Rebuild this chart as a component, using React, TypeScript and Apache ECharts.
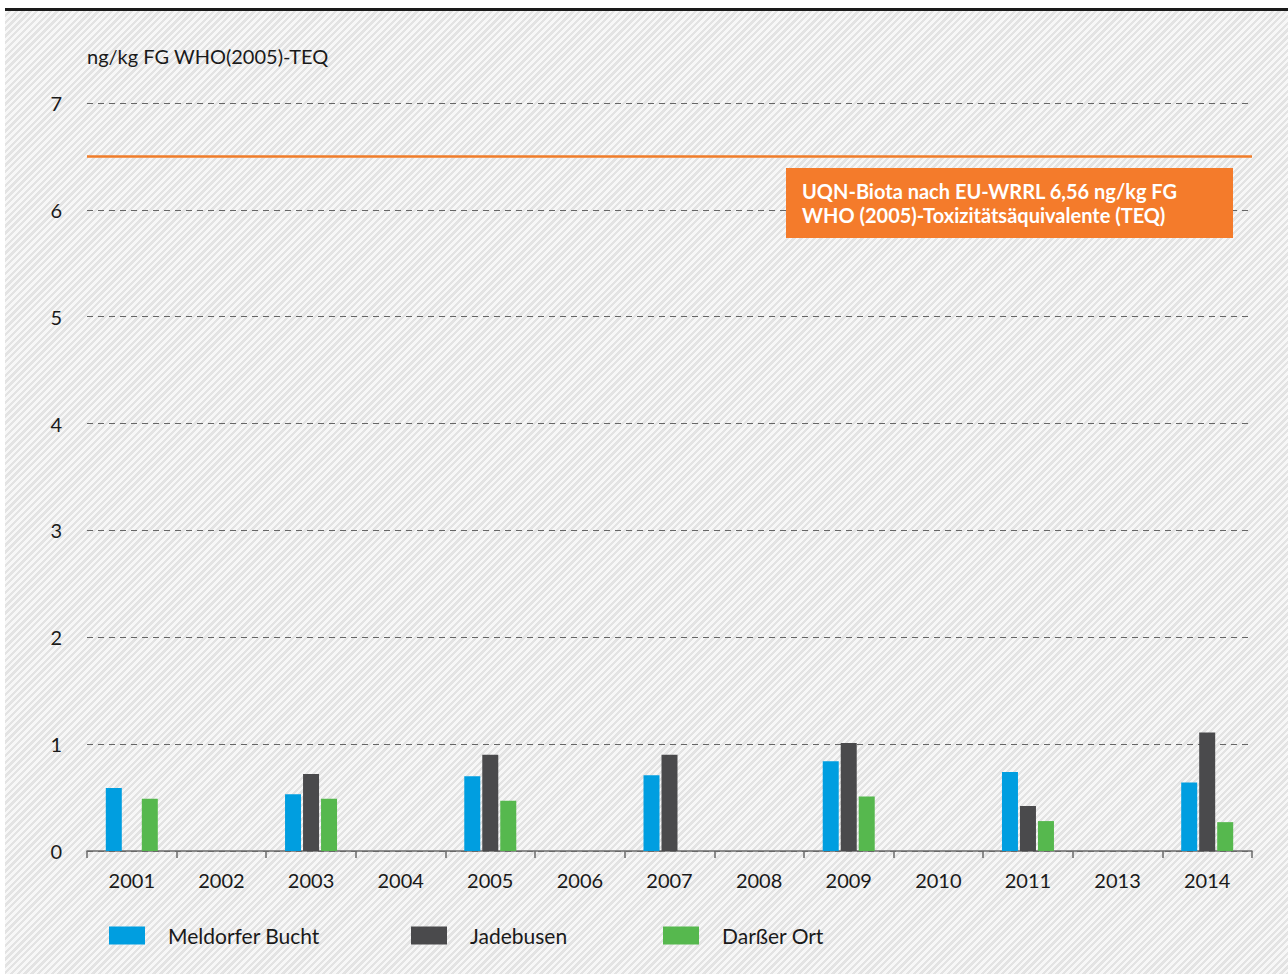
import React, { useEffect, useRef } from "react";
import * as echarts from "echarts";

const years = ["2001", "2002", "2003", "2004", "2005", "2006", "2007", "2008", "2009", "2010", "2011", "2013", "2014"];
const meldorferBucht = [0.59, null, 0.53, null, 0.70, null, 0.71, null, 0.84, null, 0.74, null, 0.64];
const jadebusen = [null, null, 0.72, null, 0.90, null, 0.90, null, 1.01, null, 0.42, null, 1.11];
const darsserOrt = [0.49, null, 0.49, null, 0.47, null, null, null, 0.51, null, 0.28, null, 0.27];
const seriesNames = ["Meldorfer Bucht", "Jadebusen", "Darßer Ort"];
const seriesColors = ["#009ee0", "#4a4a4c", "#56b84e"];
const uqnLimit = 6.5;
const yMin = 0;
const yMax = 7;
const yInterval = 1;
const yAxisTitle = "ng/kg FG WHO(2005)-TEQ";
const uqnLabel = "UQN-Biota nach EU-WRRL 6,56 ng/kg FG\nWHO (2005)-Toxizitätsäquivalente (TEQ)";

const FONT = "Lato, 'Noto Sans', sans-serif";

export default function App() {
  const ref = useRef<HTMLDivElement>(null);
  useEffect(() => {
    if (!ref.current) return;
    const chart = echarts.init(ref.current, null, { renderer: "svg" });
    const dataSets = [meldorferBucht, jadebusen, darsserOrt];
    const legendLefts = [109, 411, 663];
    chart.setOption({
      animation: false,
      backgroundColor: "transparent",
      textStyle: { fontFamily: FONT },
      grid: { left: 87, right: 36, top: 103, bottom: 123, containLabel: false },
      legend: seriesNames.map((n, i) => ({
        data: [n],
        left: legendLefts[i],
        top: 925,
        padding: 0,
        icon: "rect",
        itemWidth: 36,
        itemHeight: 18,
        selectedMode: false,
        textStyle: { fontFamily: FONT, fontSize: 21, color: "#1a1a1a", padding: [0, 0, 0, 18] },
      })),
      xAxis: {
        type: "category",
        data: years,
        boundaryGap: true,
        axisLine: { lineStyle: { color: "#6a6a6a", width: 1.5 } },
        axisTick: { show: true, alignWithLabel: false, length: 7, lineStyle: { color: "#6a6a6a", width: 1.5 } },
        axisLabel: { fontFamily: FONT, fontSize: 20, color: "#1a1a1a", margin: 19 },
      },
      yAxis: {
        type: "value",
        min: yMin,
        max: yMax,
        interval: yInterval,
        axisLine: { show: false },
        axisTick: { show: false },
        axisLabel: { fontFamily: FONT, fontSize: 20, color: "#1a1a1a", margin: 25 },
        splitLine: { show: true, lineStyle: { color: "#666", width: 1, type: [6, 5] } },
      },
      series: seriesNames.map((n, i) => ({
        name: n,
        type: "bar",
        data: dataSets[i],
        barWidth: 16,
        barGap: "12.5%",
        itemStyle: { color: seriesColors[i] },
        markLine:
          i === 0
            ? {
                silent: true,
                symbol: "none",
                label: { show: false },
                lineStyle: { color: "#f07d2a", width: 2.5, type: "solid" },
                data: [{ yAxis: uqnLimit }],
              }
            : undefined,
      })),
      graphic: [
        {
          type: "line",
          z: 100,
          shape: { x1: 5, y1: 9.5, x2: 1288, y2: 9.5 },
          style: { stroke: "#1a1a1a", lineWidth: 3 },
        },
        {
          type: "text",
          z: 100,
          left: 87,
          top: 46,
          style: { text: yAxisTitle, font: `20px ${FONT}`, fill: "#1a1a1a" },
        },
        {
          type: "rect",
          z: 100,
          shape: { x: 786, y: 168, width: 447, height: 70 },
          style: { fill: "#f47b2b" },
        },
        {
          type: "text",
          z: 101,
          x: 802,
          y: 179,
          style: {
            text: uqnLabel,
            font: `bold 20px ${FONT}`,
            fill: "#ffffff",
            lineHeight: 24,
          },
        },
      ],
    });
    return () => chart.dispose();
  }, []);
  return (
    <div
      style={{
        position: "absolute",
        left: 0,
        top: 0,
        width: 1288,
        height: 974,
        background: "#ffffff",
      }}
    >
      <div
        style={{
          position: "absolute",
          left: 5,
          top: 11,
          right: 0,
          bottom: 0,
          background:
            "repeating-linear-gradient(135deg, #f7f7f7 0px, #f7f7f7 2.4px, #e3e3e3 2.4px, #e3e3e3 4.8px)",
        }}
      />
      <div ref={ref} style={{ position: "absolute", left: 0, top: 0, width: 1288, height: 974 }} />
    </div>
  );
}
